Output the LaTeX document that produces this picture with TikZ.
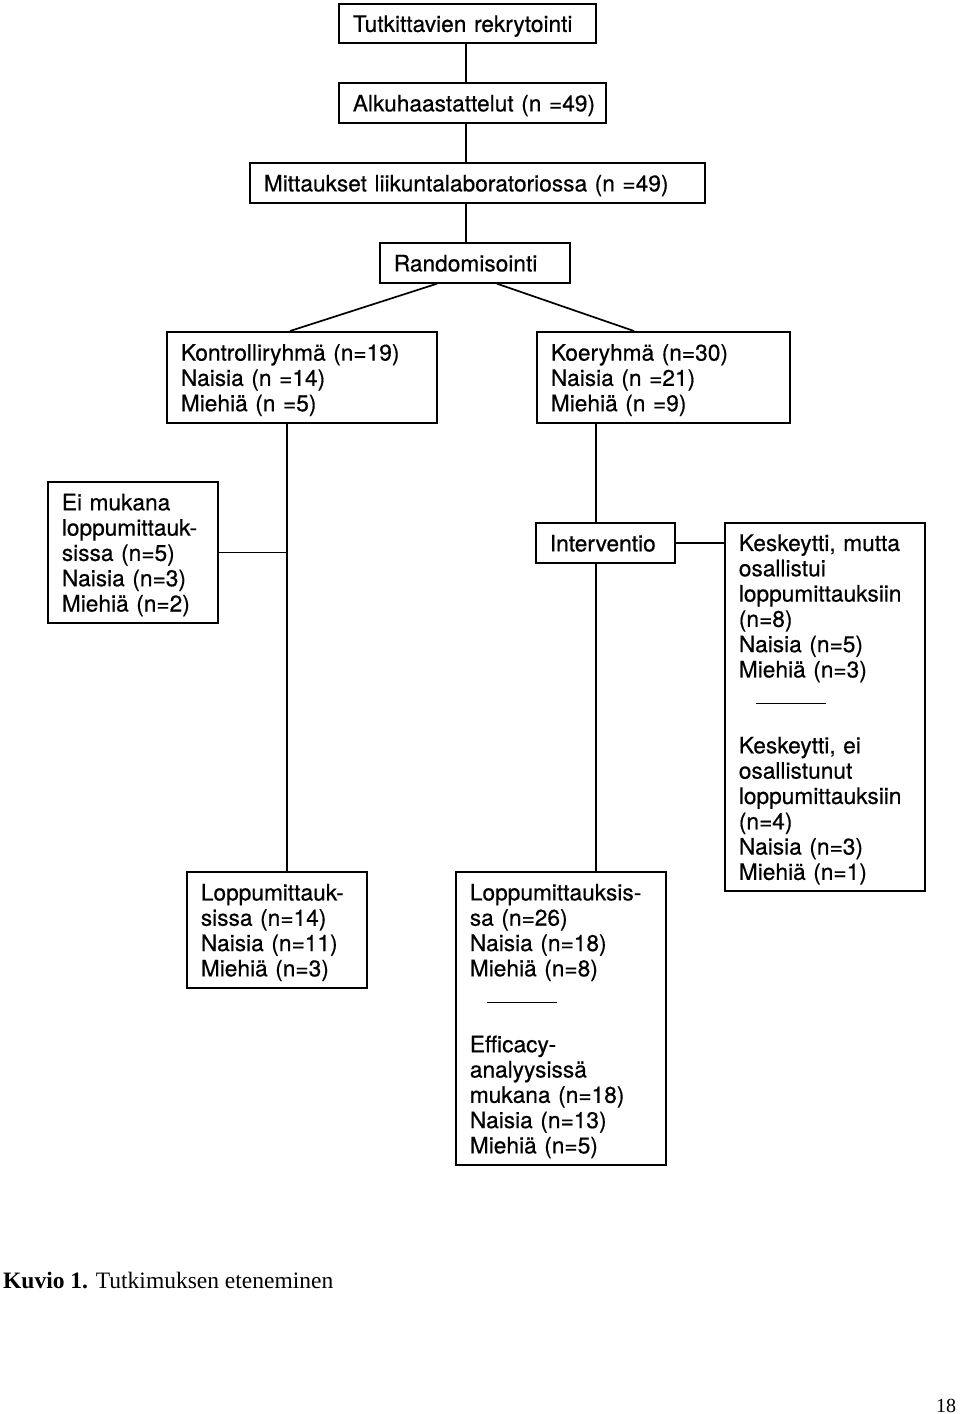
\documentclass[tikz,border=0pt]{standalone}
\usepackage{fontspec}
\setmainfont{TeX Gyre Heros}[FakeBold=0.5]
\newfontfamily\capfont{Liberation Serif}
\newcommand\tb[1]{\begin{tabular}{@{}l@{}}\rule{0pt}{24.7pt}#1\end{tabular}}
\newcommand\seprule{\hspace*{17pt}\rule[-1.5pt]{70pt}{1.6pt}}
\tikzset{
  box/.style={draw, line width=1.7pt, anchor=north west, inner xsep=14pt, inner ysep=0pt,
    align=left, font=\fontsize{22.7}{25.3}\selectfont},
  conn/.style={line width=1.7pt},
  captext/.style={anchor=base west, inner sep=0pt}
}
\begin{document}
\begin{tikzpicture}[x=1pt,y=-1pt]
\useasboundingbox (0,0) rectangle (960,1414);
\coordinate (xa) at (466,0);
\coordinate (xk) at (287,0);
\coordinate (xe) at (596,0);
\coordinate (dl1) at (437,0);
\coordinate (dl2) at (290,0);
\coordinate (dr1) at (497,0);
\coordinate (dr2) at (634,0);

\node[box, text width=229pt, minimum height=39pt] (n1) at (338,3) {\tb{Tutkittavien rekrytointi}};
\node[box, text width=239pt, minimum height=40pt] (n2) at (338,82) {\tb{Alkuhaastattelut (n =49)}};
\node[box, text width=427pt, minimum height=40pt] (n3) at (249,162) {\tb{Mittaukset liikuntalaboratoriossa (n =49)}};
\node[box, text width=162pt, minimum height=40pt] (n4) at (379,242) {\tb{Randomisointi}};
\node[box, text width=242pt, minimum height=91pt] (n5) at (166,331) {\tb{Kontrolliryhmä (n=19)\\Naisia (n =14)\\Miehiä (n =5)}};
\node[box, text width=225pt, minimum height=91pt] (n6) at (536,331) {\tb{Koeryhmä (n=30)\\Naisia (n =21)\\Miehiä (n =9)}};
\node[box, text width=142pt, minimum height=141pt] (n7) at (47,481) {\tb{Ei mukana\\loppumittauk-\\sissa (n=5)\\Naisia (n=3)\\Miehiä (n=2)}};
\node[box, text width=111pt, minimum height=40pt] (n8) at (535,522) {\tb{Interventio}};
\node[box, text width=172pt, minimum height=368pt] (n9) at (724,522) {\tb{Keskeytti, mutta\\osallistui\\loppumittauksiin\\(n=8)\\Naisia (n=5)\\Miehiä (n=3)\\\seprule\\ \\Keskeytti, ei\\osallistunut\\loppumittauksiin\\(n=4)\\Naisia (n=3)\\Miehiä (n=1)}};
\node[box, text width=152pt, minimum height=116pt] (n10) at (186,871) {\tb{Loppumittauk-\\sissa (n=14)\\Naisia (n=11)\\Miehiä (n=3)}};
\node[box, text width=182pt, minimum height=293pt] (n11) at (455,871) {\tb{Loppumittauksis-\\sa (n=26)\\Naisia (n=18)\\Miehiä (n=8)\\\seprule\\ \\Efficacy-\\analyysissä\\mukana (n=18)\\Naisia (n=13)\\Miehiä (n=5)}};

\draw[conn] (n1.south -| xa) -- (n2.north -| xa);
\draw[conn] (n2.south -| xa) -- (n3.north -| xa);
\draw[conn] (n3.south -| xa) -- (n4.north -| xa);
\draw[conn] (n4.south -| dl1) -- (n5.north -| dl2);
\draw[conn] (n4.south -| dr1) -- (n6.north -| dr2);
\draw[conn] (n5.south -| xk) -- (n10.north -| xk);
\draw[conn] (n7.east) -- (n7.east -| xk);
\draw[conn] (n6.south -| xe) -- (n8.north -| xe);
\draw[conn] (n8.east) -- (n8.east -| n9.west);
\draw[conn] (n8.south -| xe) -- (n11.north -| xe);

\node[captext, font=\capfont\fontsize{23.5}{28}\selectfont] (caption) at (3,1288.5) {\textbf{Kuvio 1.} Tutkimuksen eteneminen};
\node[captext, font=\capfont\fontsize{20}{24}\selectfont] (page) at (936,1412) {18};
\end{tikzpicture}
\end{document}
